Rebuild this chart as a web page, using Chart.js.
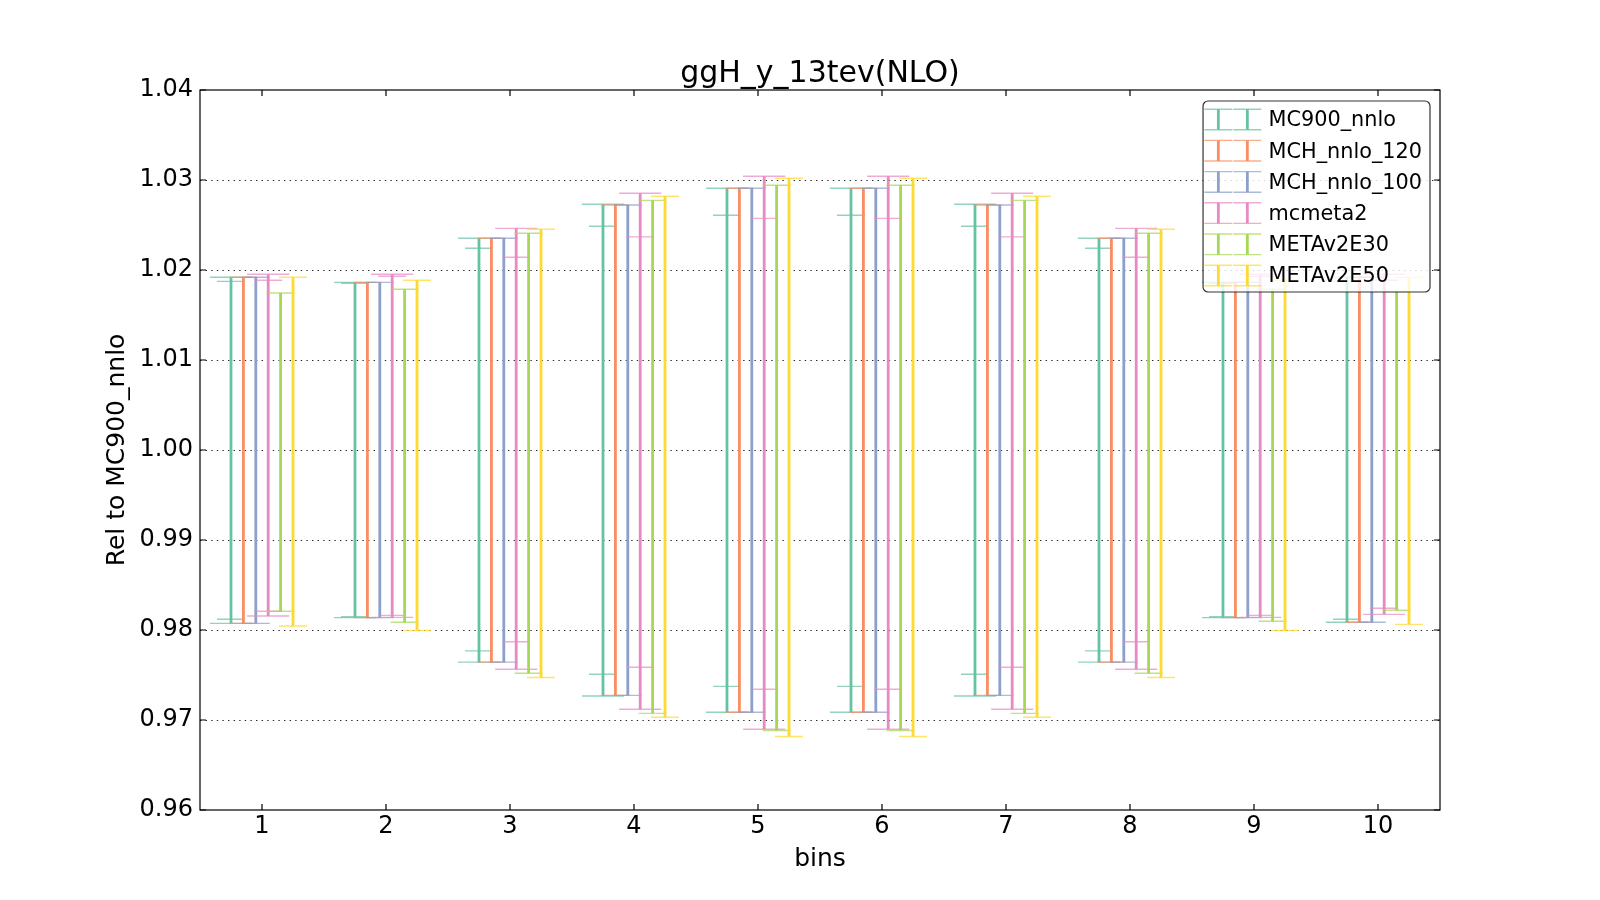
<!DOCTYPE html>
<html><head><meta charset="utf-8">
<script src="https://cdn.jsdelivr.net/npm/chart.js@4.4.1/dist/chart.umd.min.js"></script>
<style>html,body{margin:0;padding:0;background:#fff}canvas{display:block}</style>
</head><body>
<canvas id="c" width="1600" height="900"></canvas>
<script>
// ---------- data ----------
const bins = [1, 2, 3, 4, 5, 6, 7, 8, 9, 10];
const yTicks = [0.96, 0.97, 0.98, 0.99, 1.00, 1.01, 1.02, 1.03, 1.04];
const seriesNames = ['MC900_nnlo', 'MCH_nnlo_120', 'MCH_nnlo_100', 'mcmeta2', 'METAv2E30', 'METAv2E50'];
const seriesColors = ['#66c2a5', '#fc8d62', '#8da0cb', '#e78ac3', '#a6d854', '#ffd92f'];
const seriesOffsets = [-0.25, -0.15, -0.05, 0.05, 0.15, 0.25];

// narrow-cap error bars (legend entries)
const mc900Hi = [1.01874, 1.01852, 1.02241, 1.02486, 1.02608, 1.02608, 1.02486, 1.02241, 1.01852, 1.01874];
const mc900Lo = [0.98119, 0.98148, 0.97768, 0.97508, 0.97374, 0.97374, 0.97508, 0.97768, 0.98148, 0.98119];
const mch120Hi = [1.01919, 1.01863, 1.02352, 1.02722, 1.02908, 1.02908, 1.02722, 1.02352, 1.01863, 1.01919];
const mch120Lo = [0.98074, 0.98137, 0.97643, 0.97274, 0.97086, 0.97086, 0.97274, 0.97643, 0.98137, 0.98086];
const mch100Hi = [1.01919, 1.01863, 1.02352, 1.02722, 1.02908, 1.02908, 1.02722, 1.02352, 1.01863, 1.01919];
const mch100Lo = [0.98074, 0.98137, 0.97643, 0.97274, 0.97086, 0.97086, 0.97274, 0.97643, 0.98137, 0.98086];
const mcmeta2Hi = [1.01886, 1.01930, 1.02141, 1.02368, 1.02574, 1.02574, 1.02368, 1.02141, 1.01930, 1.01886];
const mcmeta2Lo = [0.98208, 0.98163, 0.97870, 0.97586, 0.97341, 0.97341, 0.97586, 0.97870, 0.98163, 0.98241];
const e30Hi = [1.01745, 1.01786, 1.02408, 1.02774, 1.02941, 1.02941, 1.02774, 1.02408, 1.01786, 1.01760];
const e30Lo = [0.98208, 0.98086, 0.97519, 0.97074, 0.96884, 0.96884, 0.97074, 0.97519, 0.98097, 0.98219];
const e50Hi = [1.01919, 1.01886, 1.02452, 1.02819, 1.03019, 1.03019, 1.02819, 1.02452, 1.01886, 1.01919];
const e50Lo = [0.98044, 0.97994, 0.97473, 0.97030, 0.96816, 0.96816, 0.97030, 0.97473, 0.97994, 0.98063];

// wide-cap outer error bars
const mc900OuterHi = [1.01919, 1.01863, 1.02352, 1.02730, 1.02908, 1.02908, 1.02730, 1.02352, 1.01863, 1.01919];
const mc900OuterLo = [0.98074, 0.98137, 0.97643, 0.97267, 0.97086, 0.97086, 0.97267, 0.97643, 0.98137, 0.98086];
const mcmeta2OuterHi = [1.01952, 1.01952, 1.02463, 1.02852, 1.03041, 1.03041, 1.02852, 1.02463, 1.01952, 1.01952];
const mcmeta2OuterLo = [0.98156, 0.98140, 0.97564, 0.97119, 0.96897, 0.96897, 0.97119, 0.97564, 0.98140, 0.98174];

const seriesHi = [mc900Hi, mch120Hi, mch100Hi, mcmeta2Hi, e30Hi, e50Hi];
const seriesLo = [mc900Lo, mch120Lo, mch100Lo, mcmeta2Lo, e30Lo, e50Lo];
const seriesOuterHi = [mc900OuterHi, null, null, mcmeta2OuterHi, null, null];
const seriesOuterLo = [mc900OuterLo, null, null, mcmeta2OuterLo, null, null];

// ---------- style ----------
const FONT = 'DejaVu Sans';
const NARROW_CAP = 0.113;  // half-width of caps in bin units
const WIDE_CAP = 0.17;
const CAP_ALPHA = 0.72;
function rgba(hex, a) {
  const n = parseInt(hex.slice(1), 16);
  return `rgba(${(n >> 16) & 255},${(n >> 8) & 255},${n & 255},${a})`;
}

function vertData(k, his, los) {
  const d = [];
  bins.forEach((b, i) => {
    const x = b + seriesOffsets[k];
    d.push({x: x, y: los[i]}, {x: x, y: his[i]}, {x: x, y: null});
  });
  return d;
}
function capData(k, his, los, hw) {
  const d = [];
  bins.forEach((b, i) => {
    const x = b + seriesOffsets[k];
    d.push({x: x - hw, y: his[i]}, {x: x + hw, y: his[i]}, {x: x, y: null});
    d.push({x: x - hw, y: los[i]}, {x: x + hw, y: los[i]}, {x: x, y: null});
  });
  return d;
}
const baseDs = {showLine: true, pointRadius: 0, pointHoverRadius: 0, spanGaps: false, tension: 0, borderCapStyle: 'butt', fill: false};

const datasets = [];
seriesNames.forEach((name, k) => {
  const hi = seriesHi[k], lo = seriesLo[k];
  const oHi = seriesOuterHi[k], oLo = seriesOuterLo[k];
  const vHi = hi.map((v, i) => oHi ? Math.max(v, oHi[i]) : v);
  const vLo = lo.map((v, i) => oLo ? Math.min(v, oLo[i]) : v);
  const ord = (6 - k) * 10;
  if (oHi) {
    datasets.push(Object.assign({}, baseDs, {label: name + ' outer', data: capData(k, oHi, oLo, WIDE_CAP),
      borderColor: rgba(seriesColors[k], CAP_ALPHA), borderWidth: 1.4, order: ord + 3}));
  }
  datasets.push(Object.assign({}, baseDs, {label: name, data: vertData(k, vHi, vLo),
    borderColor: seriesColors[k], borderWidth: 2.8, order: ord + 2}));
  datasets.push(Object.assign({}, baseDs, {label: name + ' caps', data: capData(k, hi, lo, NARROW_CAP),
    borderColor: rgba(seriesColors[k], CAP_ALPHA), borderWidth: 1.4, order: ord + 1}));
});

// ---------- plugins ----------
const framePlugin = {
  id: 'frame',
  afterDraw(chart) {
    const {ctx, chartArea: a, scales} = chart;
    const x = scales.x, y = scales.y;
    ctx.save();
    ctx.strokeStyle = '#000';
    ctx.lineWidth = 1.2;
    ctx.strokeRect(a.left, a.top, a.right - a.left, a.bottom - a.top);
    const TL = 6;
    ctx.beginPath();
    x.ticks.forEach(t => {
      const px = x.getPixelForValue(t.value);
      ctx.moveTo(px, a.bottom); ctx.lineTo(px, a.bottom - TL);
      ctx.moveTo(px, a.top); ctx.lineTo(px, a.top + TL);
    });
    y.ticks.forEach(t => {
      const py = y.getPixelForValue(t.value);
      ctx.moveTo(a.left, py); ctx.lineTo(a.left + TL, py);
      ctx.moveTo(a.right, py); ctx.lineTo(a.right - TL, py);
    });
    ctx.stroke();

    // legend
    const fs = 20.8;
    ctx.font = `${fs}px "${FONT}"`;
    const maxW = Math.max(...seriesNames.map(n => ctx.measureText(n).width));
    const textOff = 65.5;
    const boxW = textOff + maxW + 8, boxH = 191;
    const right = a.right - 10, top = a.top + 11, left = right - boxW;
    const r = 5;
    ctx.beginPath();
    ctx.moveTo(left + r, top);
    ctx.lineTo(right - r, top); ctx.arcTo(right, top, right, top + r, r);
    ctx.lineTo(right, top + boxH - r); ctx.arcTo(right, top + boxH, right - r, top + boxH, r);
    ctx.lineTo(left + r, top + boxH); ctx.arcTo(left, top + boxH, left, top + boxH - r, r);
    ctx.lineTo(left, top + r); ctx.arcTo(left, top, left + r, top, r);
    ctx.closePath();
    ctx.fillStyle = 'rgba(255,255,255,0.8)';
    ctx.fill();
    ctx.strokeStyle = 'rgba(0,0,0,0.8)';
    ctx.lineWidth = 1.2;
    ctx.stroke();
    seriesNames.forEach((name, k) => {
      const cy = top + 18.5 + k * 31.2;
      const vx = [left + 15.3, left + 44.3];
      ctx.strokeStyle = rgba(seriesColors[k], CAP_ALPHA);
      ctx.lineWidth = 1.4;
      ctx.beginPath();
      vx.forEach(v => {
        ctx.moveTo(v - 14, cy - 10.3); ctx.lineTo(v + 14, cy - 10.3);
        ctx.moveTo(v - 14, cy + 10.3); ctx.lineTo(v + 14, cy + 10.3);
      });
      ctx.stroke();
      ctx.strokeStyle = seriesColors[k];
      ctx.lineWidth = 2.8;
      ctx.beginPath();
      vx.forEach(v => { ctx.moveTo(v, cy - 10.3); ctx.lineTo(v, cy + 10.3); });
      ctx.stroke();
      ctx.fillStyle = '#000';
      ctx.textAlign = 'left';
      ctx.textBaseline = 'middle';
      ctx.fillText(name, left + textOff, cy + 1.5);
    });
    ctx.restore();
  }
};

new Chart(document.getElementById('c'), {
  type: 'scatter',
  data: {datasets: datasets},
  options: {
    responsive: false,
    animation: false,
    events: [],
    layout: {padding: {left: 0, right: 160, top: 0, bottom: 0}},
    plugins: {
      legend: {display: false},
      tooltip: {enabled: false},
      title: {display: true, fullSize: false, text: 'ggH_y_13tev(NLO)', color: '#000',
        font: {family: FONT, size: 30, weight: 'normal', lineHeight: 1.0}, padding: {top: 59, bottom: 1}}
    },
    scales: {
      x: {
        type: 'linear', min: 0.5, max: 10.5,
        afterBuildTicks: s => { s.ticks = bins.map(v => ({value: v})); },
        afterFit: s => { s.height = 90; },
        ticks: {color: '#000', font: {family: FONT, size: 24}, padding: 2, maxRotation: 0, autoSkip: false,
          callback: v => String(v)},
        grid: {display: false, drawTicks: false},
        border: {display: false},
        title: {display: true, text: 'bins', color: '#000', font: {family: FONT, size: 25}, padding: {top: 0, bottom: 26}}
      },
      y: {
        type: 'linear', min: 0.96, max: 1.04,
        afterBuildTicks: s => { s.ticks = yTicks.map(v => ({value: v})); },
        afterFit: s => { s.width = 200; },
        ticks: {color: '#000', font: {family: FONT, size: 24}, padding: 7, callback: v => v.toFixed(2)},
        grid: {drawTicks: false, lineWidth: 1,
          color: c => (c.tick && (Math.abs(c.tick.value - 0.96) < 1e-9 || Math.abs(c.tick.value - 1.04) < 1e-9)) ? 'rgba(0,0,0,0)' : 'rgba(0,0,0,0.85)'},
        border: {display: false, dash: [1.4, 4.2]},
        title: {display: true, text: 'Rel to MC900_nnlo', color: '#000', font: {family: FONT, size: 25}, padding: {top: 102, bottom: 0}}
      }
    }
  },
  plugins: [framePlugin]
});
</script>
</body></html>
